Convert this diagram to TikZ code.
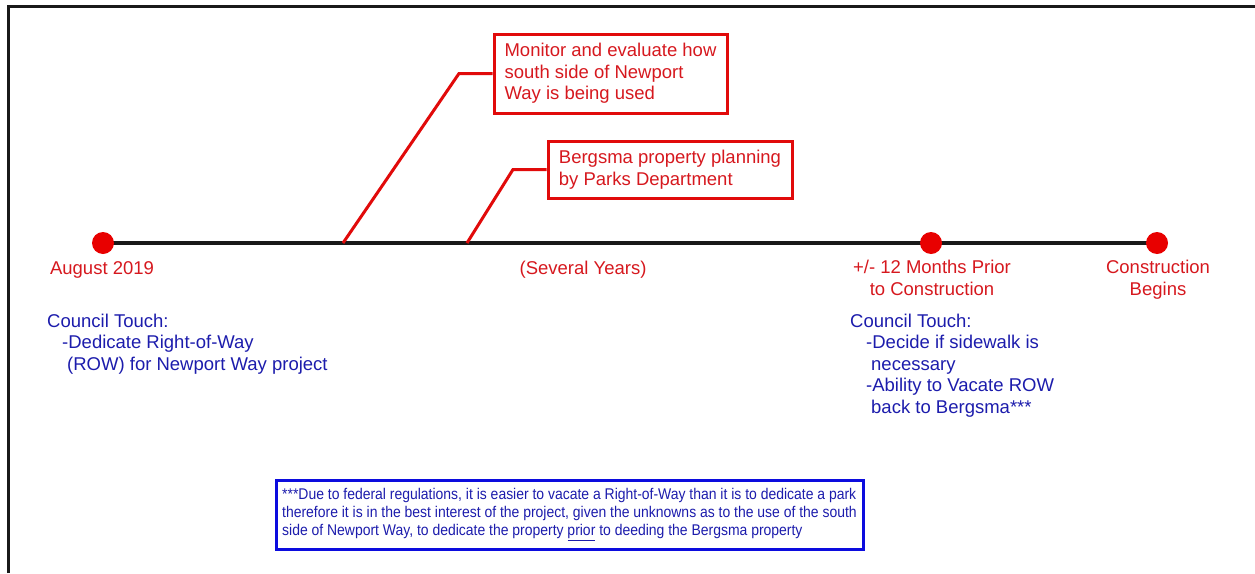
\documentclass[tikz,border=0pt]{standalone}
\usepackage{fontspec}
\setmainfont{Liberation Sans}
\newfontfamily\notefont[FakeStretch=0.9]{Liberation Sans}
\usetikzlibrary{backgrounds}
\definecolor{dotred}{RGB}{232,0,0}
\definecolor{txtred}{RGB}{214,24,30}
\definecolor{txtblue}{RGB}{28,28,172}
\definecolor{boxblue}{RGB}{12,12,222}
\definecolor{linered}{RGB}{225,10,10}
\tikzset{
  dot/.style={circle, fill=dotred, inner sep=0pt, minimum size=22pt},
  redlbl/.style={text=txtred, font=\fontsize{18.5}{21.5}\selectfont, inner sep=0pt, align=center},
  bluelbl/.style={text=txtblue, font=\fontsize{18.5}{21.5}\selectfont, inner sep=0pt, align=left},
  redbox/.style={draw=linered, line width=3pt, text=txtred, font=\fontsize{18.5}{21.5}\selectfont, align=left, inner sep=0pt},
  notebox/.style={draw=boxblue, line width=3pt, text=txtblue, font=\notefont\fontsize{15.5}{18}\selectfont, align=left, inner sep=0pt},
  leader/.style={draw=linered, line width=3pt},
  tline/.style={draw=black!90, line width=3.2pt},
  frame/.style={draw=black!90, line width=3pt}
}
\begin{document}
\begin{tikzpicture}[x=1pt,y=-1pt]
\useasboundingbox (0,0) rectangle (1255,573);
% frame (left and top edges)
\coordinate (fb) at (8,573);
\coordinate (ft) at (8,6);
\coordinate (fr) at (1255,6);
\draw[frame] (fb) -- (ft) -- (fr);
% timeline dots
\node[dot] (d1) at (103,243) {};
\node[dot] (d2) at (931,243) {};
\node[dot] (d3) at (1157,243) {};
\coordinate (c1) at (343,243);
\coordinate (c2) at (467,243);
\begin{scope}[on background layer]
\draw[tline] (d1.center) -- (d3.center);
\end{scope}
% red callout boxes
\node[redbox, minimum width=233pt, minimum height=79pt] (b1) at (610.5,73.5)
  {Monitor and evaluate how\\south side of Newport\\Way is being used};
\node[redbox, minimum width=244pt, minimum height=57pt] (b2) at (670,169.5)
  {Bergsma property planning\\by Parks Department};
\coordinate (k1) at (459,73.5);
\coordinate (k2) at (513,169.5);
\draw[leader] (c1) -- (k1) -- (b1.west);
\draw[leader] (c2) -- (k2) -- (b2.west);
% red labels
\node[redlbl, anchor=base] (l1) at (102,274) {August 2019};
\node[redlbl, anchor=base] (l2) at (583,274) {(Several Years)};
\node[redlbl, anchor=north] (l3) at (932,260) {+/- 12 Months Prior\\to Construction};
\node[redlbl, anchor=north] (l4) at (1158,260) {Construction\\Begins};
% blue council notes
\node[bluelbl, anchor=north west] (n1) at (47,313.5)
  {Council Touch:\\\hspace*{15pt}-Dedicate Right-of-Way\\\hspace*{20pt}(ROW) for Newport Way project};
\node[bluelbl, anchor=north west] (n2) at (850,313.5)
  {Council Touch:\\\hspace*{16pt}-Decide if sidewalk is\\\hspace*{21pt}necessary\\\hspace*{16pt}-Ability to Vacate ROW\\\hspace*{21pt}back to Bergsma***};
% footnote box
\node[notebox, minimum width=587pt, minimum height=69pt] (fn) at (569.5,514.5)
  {***Due to federal regulations, it is easier to vacate a Right-of-Way than it is to dedicate a park\\therefore it is in the best interest of the project, given the unknowns as to the use of the south\\side of Newport Way, to dedicate the property \underline{prior} to deeding the Bergsma property};
\end{tikzpicture}
\end{document}
